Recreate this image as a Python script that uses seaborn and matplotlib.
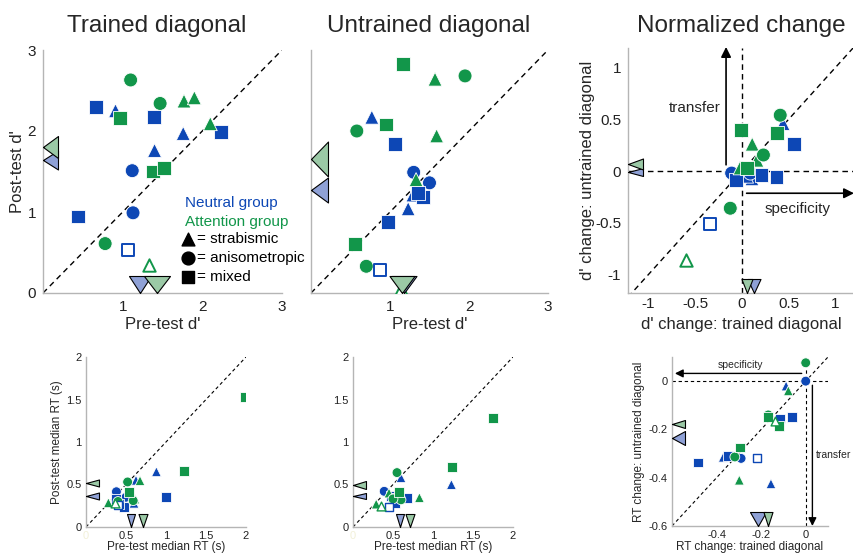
import numpy as np
import pandas as pd
import matplotlib
matplotlib.use("Agg")
import matplotlib.pyplot as plt
import seaborn as sns

# ---------------- data ----------------
# subject order  Neutral: T,T,T,C,C,S,S,S,S,S(open)   Attention: T,T,T,C,C,C,S,S,S,T(open)
types_neu = ["strabismic"] * 3 + ["anisometropic"] * 2 + ["mixed"] * 5
types_att = ["strabismic"] * 3 + ["anisometropic"] * 3 + ["mixed"] * 3 + ["strabismic"]
open_neu = [False] * 9 + [True]
open_att = [False] * 9 + [True]

# Trained diagonal d'
dtr_pre_neu = [0.91, 1.76, 1.40, 1.12, 1.13, 0.665, 1.39, 2.23, 0.44, 1.07]
dtr_post_neu = [2.25, 1.97, 1.76, 1.51, 0.99, 2.30, 2.17, 1.99, 0.945, 0.53]
dtr_pre_att = [1.77, 1.90, 2.10, 1.10, 1.47, 0.78, 0.97, 1.38, 1.52, 1.33]
dtr_post_att = [2.37, 2.41, 2.09, 2.63, 2.34, 0.61, 2.16, 1.50, 1.54, 0.35]

# Untrained diagonal d'
dun_pre_neu = [0.77, 1.29, 1.23, 1.30, 1.50, 1.06, 1.42, 0.98, 1.36, 0.87]
dun_post_neu = [2.17, 1.21, 1.04, 1.49, 1.36, 1.84, 1.19, 0.88, 1.24, 0.28]
dun_pre_att = [1.57, 1.59, 1.33, 1.95, 0.58, 0.70, 1.17, 0.95, 0.56, 1.14]
dun_post_att = [2.64, 1.94, 1.40, 2.68, 2.00, 0.33, 2.83, 2.08, 0.60, 0.05]

# Normalized d' change
dchg_tr_neu = [0.44, 0.107, 0.05, -0.11, 0.09, 0.56, 0.21, 0.37, -0.06, -0.34]
dchg_un_neu = [0.46, -0.075, -0.05, -0.02, -0.02, 0.26, -0.04, -0.055, -0.09, -0.51]
dchg_tr_att = [0.11, 0.16, -0.02, 0.41, 0.23, -0.125, -0.01, 0.38, 0.05, -0.60]
dchg_un_att = [0.26, 0.105, 0.03, 0.54, 0.155, -0.36, 0.40, 0.365, 0.03, -0.86]

# Trained diagonal RT (s)
rtr_pre_neu = [0.88, 0.625, 0.60, 0.38, 0.50, 1.00, 0.47, 0.41, 0.38, 0.40]
rtr_post_neu = [0.65, 0.55, 0.28, 0.415, 0.35, 0.356, 0.24, 0.27, 0.33, 0.26]
rtr_pre_att = [0.675, 0.61, 0.28, 0.52, 0.59, 0.40, 1.99, 1.22, 0.54, 0.36]
rtr_post_att = [0.545, 0.33, 0.285, 0.53, 0.31, 0.30, 1.53, 0.66, 0.415, 0.285]

# Untrained diagonal RT (s)
run_pre_neu = [1.23, 0.60, 0.48, 0.39, 0.55, 0.47, 0.67, 0.525, 0.52, 0.45]
run_post_neu = [0.50, 0.58, 0.30, 0.42, 0.30, 0.36, 0.34, 0.34, 0.28, 0.24]
run_pre_att = [0.83, 0.29, 0.45, 0.55, 0.60, 0.50, 1.75, 1.24, 0.57, 0.35]
run_post_att = [0.345, 0.27, 0.40, 0.64, 0.32, 0.33, 1.28, 0.71, 0.415, 0.25]

# RT change
rchg_tr_neu = [-0.088, -0.37, -0.156, 0.0, -0.29, -0.115, -0.06, -0.35, -0.485, -0.217]
rchg_un_neu = [-0.02, -0.315, -0.425, 0.0, -0.32, -0.155, -0.15, -0.31, -0.337, -0.318]
rchg_tr_att = [-0.078, -0.115, -0.298, 0.0, -0.168, -0.318, -0.295, -0.12, -0.17, -0.138]
rchg_un_att = [-0.04, -0.19, -0.41, 0.076, -0.14, -0.314, -0.275, -0.185, -0.15, -0.165]

titles = ["Trained diagonal", "Untrained diagonal", "Normalized change"]
ticks_d = [1, 2, 3]
ticks_d_y = [0, 1, 2, 3]
ticks_chg = [-1, -0.5, 0, 0.5, 1]
ticklabels_chg = ["-1", "-0.5", "0", "0.5", "1"]
ticks_rt = [0, 0.5, 1, 1.5, 2]
ticklabels_rt = ["0", "0.5", "1", "1.5", "2"]
ticks_rchg_x = [-0.4, -0.2, 0]
ticklabels_rchg_x = ["-0.4", "-0.2", "0"]
ticks_rchg_y = [-0.6, -0.4, -0.2, 0]
ticklabels_rchg_y = ["-0.6", "-0.4", "-0.2", "0"]

# ---------------- style ----------------
BLUE = "#0d47b5"
GREEN = "#12964a"
LBLUE = "#8fa1d6"
LGREEN = "#9bc9a6"
SPINE = "#b5b5b5"
MARKERS = {"strabismic": "^", "anisometropic": "o", "mixed": "s"}

sns.set_style("white")
plt.rcParams["font.family"] = ["Liberation Sans", "DejaVu Sans"]
plt.rcParams["axes.unicode_minus"] = False

fig = plt.figure(figsize=(8.54, 5.55), dpi=100)
W, H = 854.0, 555.0


def add_ax(l, r, t, b):
    return fig.add_axes([l / W, 1 - b / H, (r - l) / W, (b - t) / H])


def style_ax(ax, fs, pad):
    sns.despine(ax=ax)
    for s in ("left", "bottom"):
        ax.spines[s].set_color(SPINE)
        ax.spines[s].set_linewidth(1.0)
    ax.tick_params(length=0, labelsize=fs, pad=pad, colors="#222222")


def make_df(xn, yn, xa, ya):
    return pd.DataFrame({
        "x": list(xn) + list(xa),
        "y": list(yn) + list(ya),
        "group": ["Neutral"] * len(xn) + ["Attention"] * len(xa),
        "type": types_neu + types_att,
        "open": open_neu + open_att,
    })


def draw_points(ax, xn, yn, xa, ya, s, lw_open):
    df = make_df(xn, yn, xa, ya)
    filled = df[~df["open"]]
    sns.scatterplot(data=filled, x="x", y="y", hue="group", style="type",
                    palette={"Neutral": BLUE, "Attention": GREEN},
                    markers=MARKERS, s=s, edgecolor="white", linewidth=0.6,
                    legend=False, ax=ax, zorder=3)
    op = df[df["open"]]
    for _, r in op.iterrows():
        c = BLUE if r["group"] == "Neutral" else GREEN
        ax.scatter([r["x"]], [r["y"]], marker=MARKERS[r["type"]], s=s * 0.8,
                   facecolor="white", edgecolor=c, linewidth=lw_open, zorder=3)
    ax.set_xlabel("")
    ax.set_ylabel("")


def tri_marker(along, depth, orient):
    a, d = along * 0.72 / 2, depth * 0.72
    if orient == "left":
        verts = [(0, 0), (d, a), (d, -a), (0, 0)]
    else:
        verts = [(0, 0), (a, d), (-a, d), (0, 0)]
    m = max(a, d)
    return verts, (2 * m) ** 2


def mean_markers(ax, xn, yn, xa, ya, along_left, along_bottom, depth_left, depth_bottom):
    x0 = ax.get_xlim()[0]
    y0 = ax.get_ylim()[0]
    groups = [(xn, yn, LBLUE), (xa, ya, LGREEN)]
    for i, (gx, gy, col) in enumerate(groups):
        verts, s = tri_marker(along_left[i], depth_left, "left")
        ax.scatter([x0], [np.mean(gy)], marker=verts, s=s, facecolor=col,
                   edgecolor="black", linewidth=0.8, clip_on=False, zorder=6)
        verts, s = tri_marker(along_bottom[i], depth_bottom, "down")
        ax.scatter([np.mean(gx)], [y0], marker=verts, s=s, facecolor=col,
                   edgecolor="black", linewidth=0.8, clip_on=False, zorder=6)


def dashed(ax, x, y, lw=1.0, dash=(4, 3)):
    ax.plot(x, y, color="black", lw=lw, linestyle=(0, dash), zorder=2)


def arrow(ax, start, end, ms, lw=1.2):
    ax.annotate("", xy=end, xytext=start, annotation_clip=False,
                arrowprops=dict(arrowstyle="-|>", color="black", lw=lw,
                                mutation_scale=ms, shrinkA=0, shrinkB=0))


# ---------------- panel A: trained diagonal ----------------
axA = add_ax(43, 282, 50, 293)
axA.set_xlim(0, 3)
axA.set_ylim(0, 3)
dashed(axA, [0, 3], [0, 3])
draw_points(axA, dtr_pre_neu, dtr_post_neu, dtr_pre_att, dtr_post_att, 100, 1.4)
mean_markers(axA, dtr_pre_neu, dtr_post_neu, dtr_pre_att, dtr_post_att,
             [19, 22], [22, 26], 15, 17)
axA.set_xticks(ticks_d)
axA.set_yticks(ticks_d_y)
style_ax(axA, 11, 5)
axA.set_xlabel("Pre-test d'", fontsize=12)
axA.set_ylabel("Post-test d'", fontsize=12)
axA.xaxis.set_label_coords(0.5, -0.10)
axA.yaxis.set_label_coords(-0.075, 0.5)

# legend text
axA.text(0.594, 0.370, "Neutral group", color=BLUE, fontsize=11,
         transform=axA.transAxes, va="center")
axA.text(0.594, 0.292, "Attention group", color=GREEN, fontsize=11,
         transform=axA.transAxes, va="center")
for yy, lab in zip([0.222, 0.144, 0.066], ["strabismic", "anisometropic", "mixed"]):
    axA.scatter([0.605], [yy], marker=MARKERS[lab], s=85, color="black",
                transform=axA.transAxes, clip_on=False, zorder=4)
    axA.text(0.643, yy, "= " + lab, color="black", fontsize=11,
             transform=axA.transAxes, va="center", clip_on=False)

# ---------------- panel B: untrained diagonal ----------------
axB = add_ax(311, 548, 50, 293)
axB.set_xlim(0, 3)
axB.set_ylim(0, 3)
dashed(axB, [0, 3], [0, 3])
draw_points(axB, dun_pre_neu, dun_post_neu, dun_pre_att, dun_post_att, 100, 1.4)
mean_markers(axB, dun_pre_neu, dun_post_neu, dun_pre_att, dun_post_att,
             [25, 35], [25, 25], 17, 17)
axB.set_xticks(ticks_d)
axB.set_yticks([])
style_ax(axB, 11, 5)
axB.set_xlabel("Pre-test d'", fontsize=12)
axB.xaxis.set_label_coords(0.5, -0.10)

# ---------------- panel C: normalized change ----------------
axC = add_ax(628, 854, 48, 293)
axC.set_xlim(-1.22, 1.2)
axC.set_ylim(-1.18, 1.19)
dashed(axC, [-1.22, 1.2], [-1.22, 1.2])
dashed(axC, [-1.22, 1.2], [0, 0])
dashed(axC, [0, 0], [-1.18, 1.19])
arrow(axC, (-0.17, 0.06), (-0.17, 1.2), 15)
arrow(axC, (0.05, -0.215), (1.2, -0.215), 15)
axC.text(-0.50, 0.61, "transfer", fontsize=11, ha="center", va="center")
axC.text(0.60, -0.37, "specificity", fontsize=11, ha="center", va="center")
draw_points(axC, dchg_tr_neu, dchg_un_neu, dchg_tr_att, dchg_un_att, 100, 1.4)
mean_markers(axC, dchg_tr_neu, dchg_un_neu, dchg_tr_att, dchg_un_att,
             [8, 11], [13, 11], 15, 14)
axC.set_xticks(ticks_chg)
axC.set_xticklabels(ticklabels_chg)
axC.set_yticks(ticks_chg)
axC.set_yticklabels(ticklabels_chg)
style_ax(axC, 11, 5)
axC.tick_params(axis="x", pad=3)
axC.set_xlabel("d' change: trained diagonal", fontsize=12)
axC.set_ylabel("d' change: untrained diagonal", fontsize=12)
axC.xaxis.set_label_coords(0.5, -0.097)
axC.yaxis.set_label_coords(-0.146, 0.5)

# ---------------- panel D: RT trained ----------------
axD = add_ax(86, 246, 357, 527)
axD.set_xlim(0, 2)
axD.set_ylim(0, 2)
dashed(axD, [0, 2], [0, 2], lw=0.8, dash=(3, 2.5))
draw_points(axD, rtr_pre_neu, rtr_post_neu, rtr_pre_att, rtr_post_att, 50, 1.0)
mean_markers(axD, rtr_pre_neu, rtr_post_neu, rtr_pre_att, rtr_post_att,
             [7, 7], [8, 9], 13, 13)
axD.set_xticks(ticks_rt)
axD.set_xticklabels(ticklabels_rt)
axD.set_yticks(ticks_rt)
axD.set_yticklabels(ticklabels_rt)
style_ax(axD, 8, 3)
axD.get_xticklabels()[0].set_color("#f2f0d8")
axD.set_xlabel("Pre-test median RT (s)", fontsize=8.5)
axD.set_ylabel("Post-test median RT (s)", fontsize=8.5)
axD.xaxis.set_label_coords(0.5, -0.082)
axD.yaxis.set_label_coords(-0.144, 0.5)

# ---------------- panel E: RT untrained ----------------
axE = add_ax(353, 513, 357, 527)
axE.set_xlim(0, 2)
axE.set_ylim(0, 2)
dashed(axE, [0, 2], [0, 2], lw=0.8, dash=(3, 2.5))
draw_points(axE, run_pre_neu, run_post_neu, run_pre_att, run_post_att, 50, 1.0)
mean_markers(axE, run_pre_neu, run_post_neu, run_pre_att, run_post_att,
             [6, 8], [8, 9], 13, 13)
axE.set_xticks(ticks_rt)
axE.set_xticklabels(ticklabels_rt)
axE.set_yticks(ticks_rt)
axE.set_yticklabels(ticklabels_rt)
style_ax(axE, 8, 3)
axE.get_xticklabels()[0].set_color("#f2f0d8")
axE.set_xlabel("Pre-test median RT (s)", fontsize=8.5)
axE.xaxis.set_label_coords(0.5, -0.082)

# ---------------- panel F: RT change ----------------
axF = add_ax(672, 828, 357, 526)
axF.set_xlim(-0.6, 0.1)
axF.set_ylim(-0.6, 0.1)
dashed(axF, [-0.6, 0.1], [-0.6, 0.1], lw=0.8, dash=(3, 2.5))
dashed(axF, [-0.6, 0.1], [0, 0], lw=0.8, dash=(3, 2.5))
dashed(axF, [0, 0], [-0.6, 0.1], lw=0.8, dash=(3, 2.5))
arrow(axF, (-0.018, 0.032), (-0.587, 0.032), 12, lw=1.0)
arrow(axF, (0.03, -0.017), (0.03, -0.6), 12, lw=1.0)
axF.text(-0.294, 0.066, "specificity", fontsize=7.5, ha="center", va="center")
axF.text(0.045, -0.306, "transfer", fontsize=7.5, ha="left", va="center",
         clip_on=False)
draw_points(axF, rchg_tr_neu, rchg_un_neu, rchg_tr_att, rchg_un_att, 50, 1.0)
mean_markers(axF, rchg_tr_neu, rchg_un_neu, rchg_tr_att, rchg_un_att,
             [14, 8], [16, 9], 13, 14)
axF.set_xticks(ticks_rchg_x)
axF.set_xticklabels(ticklabels_rchg_x)
axF.set_yticks(ticks_rchg_y)
axF.set_yticklabels(ticklabels_rchg_y)
style_ax(axF, 8, 3)
axF.set_xlabel("RT change: trained diagonal", fontsize=8.5)
axF.set_ylabel("RT change: untrained diagonal", fontsize=8.5)
axF.xaxis.set_label_coords(0.5, -0.09)
axF.yaxis.set_label_coords(-0.17, 0.5)

# ---------------- titles ----------------
for xc, t in zip([157, 429, 741], titles):
    fig.text(xc / W, 1 - 32 / H, t, fontsize=17.5, ha="center", va="baseline")

fig.savefig("out.png", dpi=100)
